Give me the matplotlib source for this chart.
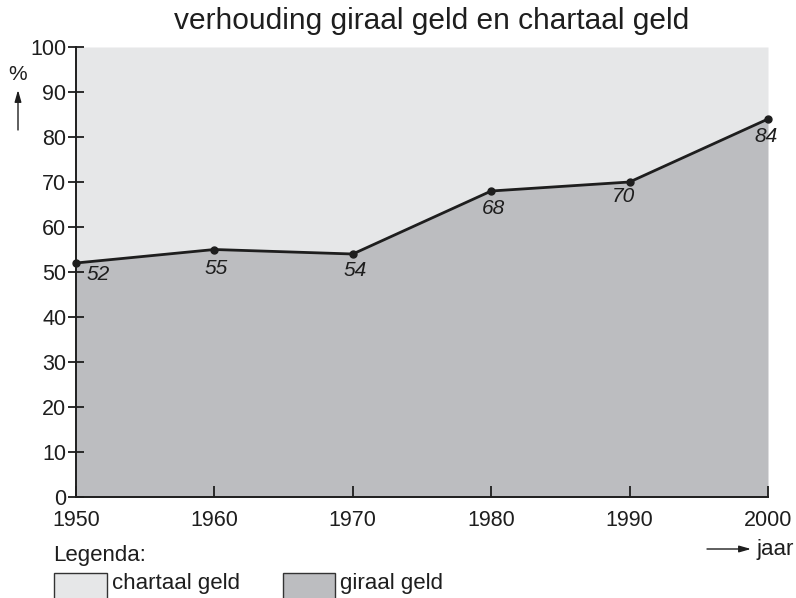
import matplotlib
matplotlib.use("Agg")
import matplotlib.pyplot as plt
from matplotlib.patches import Rectangle, FancyArrowPatch

years = [1950, 1960, 1970, 1980, 1990, 2000]
giraal = [52, 55, 54, 68, 70, 84]
labels = ["52", "55", "54", "68", "70", "84"]
xticks = [1950, 1960, 1970, 1980, 1990, 2000]
yticks = [0, 10, 20, 30, 40, 50, 60, 70, 80, 90, 100]

plt.rcParams['font.family'] = ['Liberation Sans', 'DejaVu Sans']
light = '#e6e7e8'
dark = '#bcbdc0'
ink = '#1e1e1e'

W, H = 796, 598
def fx(px):
    return px / W
def fy(py):
    return 1 - py / H

fig = plt.figure(figsize=(7.96, 5.98), dpi=100)
ax = fig.add_axes([fx(76), fy(497), (768 - 76) / W, (497 - 47) / H])
ax.fill_between(years, giraal, 100, color=light, lw=0)
ax.fill_between(years, 0, giraal, color=dark, lw=0)
ax.plot(years, giraal, color=ink, lw=2, marker='o', ms=5, clip_on=False, zorder=5)

# label offsets in pixels (dx right, dy down)
offsets = [(22, 12), (2, 19), (2, 17), (2, 17), (-6, 15), (-2, 18)]
for x, y, t, (dx, dy) in zip(years, giraal, labels, offsets):
    ax.annotate(t, (x, y), xytext=(dx * 0.72, -dy * 0.72), textcoords='offset points',
                ha='center', va='center', fontsize=15, style='italic', color=ink)

ax.set_xlim(1950, 2000)
ax.set_ylim(0, 100)
ax.set_xticks(xticks)
ax.set_yticks(yticks)
for s in ['top', 'right']:
    ax.spines[s].set_visible(False)
for s in ['left', 'bottom']:
    ax.spines[s].set_linewidth(1.4)
    ax.spines[s].set_color(ink)
ax.tick_params(axis='y', direction='inout', length=12, width=1.3, labelsize=15.5, pad=1, colors=ink)
ax.tick_params(axis='x', direction='in', length=8, width=1.3, labelsize=15.5, pad=9, colors=ink)

fig.text(fx(432), fy(21), 'verhouding giraal geld en chartaal geld', ha='center', va='center',
         fontsize=21.5, color=ink)
fig.text(fx(18), fy(75), '%', ha='center', va='center', fontsize=15, color=ink)
fig.add_artist(FancyArrowPatch((fx(18), fy(130)), (fx(18), fy(90)), transform=fig.transFigure,
                               arrowstyle='-|>,head_length=7,head_width=2', color=ink, lw=1,
                               shrinkA=0, shrinkB=0))
fig.add_artist(FancyArrowPatch((fx(707), fy(549)), (fx(751), fy(549)), transform=fig.transFigure,
                               arrowstyle='-|>,head_length=7,head_width=2', color=ink, lw=1,
                               shrinkA=0, shrinkB=0))
fig.text(fx(756), fy(549), 'jaar', ha='left', va='center', fontsize=16, color=ink)
fig.text(fx(53), fy(556), 'Legenda:', ha='left', va='center', fontsize=16, color=ink)

fig.add_artist(Rectangle((fx(54), fy(600)), 53 / W, 27 / H, transform=fig.transFigure,
                         facecolor=light, edgecolor='#333333', lw=1))
fig.text(fx(112), fy(583), 'chartaal geld', ha='left', va='center', fontsize=16, color=ink)
fig.add_artist(Rectangle((fx(283), fy(600)), 52 / W, 27 / H, transform=fig.transFigure,
                         facecolor=dark, edgecolor='#333333', lw=1))
fig.text(fx(340), fy(583), 'giraal geld', ha='left', va='center', fontsize=16, color=ink)

fig.savefig('out.png', dpi=100)
